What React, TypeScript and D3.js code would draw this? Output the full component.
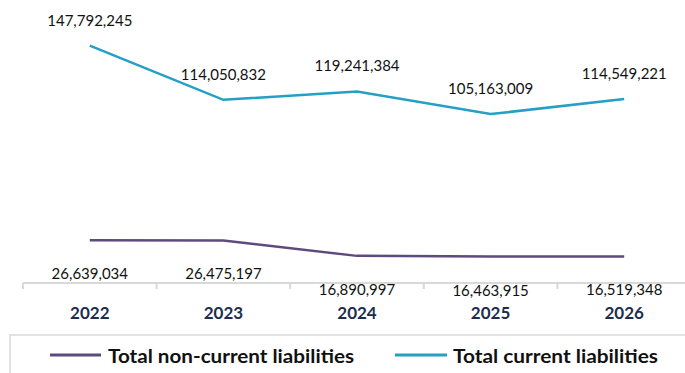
import React from "react";
import * as d3 from "d3";

const years = ["2022", "2023", "2024", "2025", "2026"];
const nonCurrent = [26639034, 26475197, 16890997, 16463915, 16519348];
const current = [147792245, 114050832, 119241384, 105163009, 114549221];
const seriesNames = ["Total non-current liabilities", "Total current liabilities"];
const colors = ["#5d4a7e", "#24a0c4"];

export default function App() {
  const W = 685, H = 373;
  const x = d3.scaleBand().domain(years).range([23, 691]);
  const y = d3.scaleLinear().domain([0, 160000000]).range([283, 26]);
  const cx = (d: string) => (x(d) as number) + x.bandwidth() / 2;
  const line = d3.line<number>().x((_, i) => cx(years[i])).y((v) => y(v));
  const fmt = d3.format(",");
  const font = "Lato, 'Open Sans', sans-serif";
  const ticks = years.map((d) => x(d) as number);
  return (
    <svg width={W} height={H} style={{ position: "absolute", left: 0, top: 0 }}>
      <rect width={W} height={H} fill="#fff" />
      <line x1={23} x2={W} y1={283} y2={283} stroke="#d9d9d9" strokeWidth={2} />
      {ticks.map((t, i) => (
        <line key={i} x1={t} x2={t} y1={283} y2={289} stroke="#d9d9d9" strokeWidth={2} />
      ))}
      {years.map((d) => (
        <text key={d} x={cx(d)} y={312} textAnchor="middle" dominantBaseline="central"
          fontFamily={font} fontWeight="bold" fontSize={17} fill="#1c2d4d">{d}</text>
      ))}
      <path d={line(nonCurrent) || ""} fill="none" stroke={colors[0]} strokeWidth={2.5} />
      <path d={line(current) || ""} fill="none" stroke={colors[1]} strokeWidth={2.5} />
      {current.map((v, i) => (
        <text key={"c" + i} x={cx(years[i])} y={y(v) - 26} textAnchor="middle" dominantBaseline="central"
          fontFamily={font} fontSize={15} fill="#111">{fmt(v)}</text>
      ))}
      {nonCurrent.map((v, i) => (
        <text key={"n" + i} x={cx(years[i])} y={y(v) + 33} textAnchor="middle" dominantBaseline="central"
          fontFamily={font} fontSize={15} fill="#111">{fmt(v)}</text>
      ))}
      <rect x={10} y={335} width={690} height={50} fill="none" stroke="#d9d9d9" strokeWidth={1.5} />
      <line x1={50} x2={101} y1={355} y2={355} stroke={colors[0]} strokeWidth={3} />
      <text x={108} y={355} dominantBaseline="central" fontFamily={font} fontWeight="bold" fontSize={19}
        textLength={246} lengthAdjust="spacingAndGlyphs" fill="#111">{seriesNames[0]}</text>
      <line x1={395} x2={447} y1={355} y2={355} stroke={colors[1]} strokeWidth={3} />
      <text x={453} y={355} dominantBaseline="central" fontFamily={font} fontWeight="bold" fontSize={19}
        textLength={205} lengthAdjust="spacingAndGlyphs" fill="#111">{seriesNames[1]}</text>
    </svg>
  );
}
